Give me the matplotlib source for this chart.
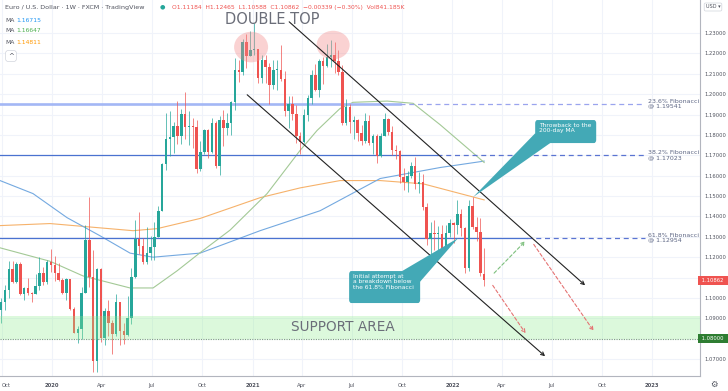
import matplotlib
matplotlib.use('Agg')
import matplotlib.pyplot as plt
import matplotlib.dates as mdates
from matplotlib.patches import Rectangle, Ellipse, Polygon, FancyBboxPatch
import numpy as np
import datetime as dt

# ---------------- data (weekly EUR/USD candles) ----------------
first_week = dt.datetime(2019, 9, 30)
opens = [1.0940,1.0978,1.1040,1.1143,1.1080,1.1165,1.1017,1.1051,1.1024,1.1018,
         1.1060,1.1121,1.1079,1.1175,1.1164,1.1120,1.1090,1.1025,1.1093,1.0944,
         1.0830,1.0847,1.1025,1.1284,1.1105,1.0690,1.1141,1.0803,1.0936,1.0875,
         1.0822,1.0978,1.0838,1.0820,1.0901,1.1102,1.1290,1.1255,1.1178,1.1219,
         1.1248,1.1300,1.1428,1.1655,1.1778,1.1788,1.1842,1.1795,1.1905,1.1837,
         1.1846,1.1838,1.1632,1.1715,1.1826,1.1718,1.1858,1.1646,1.1875,1.1834,
         1.1857,1.1962,1.2120,1.2110,1.2255,1.2188,1.2215,1.2220,1.2080,1.2170,
         1.2135,1.2045,1.2118,1.2120,1.2075,1.1915,1.1950,1.1905,1.1795,1.1765,
         1.1900,1.1983,1.2095,1.2020,1.2165,1.2140,1.2180,1.2190,1.2165,1.2110,
         1.1860,1.1935,1.1865,1.1875,1.1810,1.1770,1.1870,1.1760,1.1795,1.1697,
         1.1795,1.1880,1.1815,1.1727,1.1720,1.1595,1.1570,1.1600,1.1645,1.1558,
         1.1567,1.1445,1.1290,1.1318,1.1315,1.1315,1.1240,1.1320,1.1370,1.1360,
         1.1413,1.1343,1.1146,1.1450,1.1349,1.1323,1.11184]
highs = [1.0999,1.1063,1.1180,1.1179,1.1175,1.1176,1.1052,1.1098,1.1030,1.1116,
         1.1200,1.1153,1.1188,1.1239,1.1205,1.1173,1.1098,1.1096,1.1095,1.0957,
         1.0864,1.1054,1.1356,1.1495,1.1236,1.1147,1.1147,1.0953,1.0990,1.0890,
         1.1019,1.0980,1.0875,1.1009,1.1146,1.1384,1.1422,1.1296,1.1349,1.1303,
         1.1375,1.1452,1.1660,1.1908,1.1916,1.1864,1.1966,1.1925,1.2011,1.1917,
         1.1883,1.1872,1.1770,1.1831,1.1830,1.1881,1.1870,1.1892,1.1920,1.1906,
         1.1964,1.2177,1.2167,1.2273,1.2295,1.2310,1.2349,1.2223,1.2190,1.2190,
         1.2151,1.2170,1.2168,1.2243,1.2113,1.1990,1.1989,1.1945,1.1812,1.1927,
         1.1994,1.2117,1.2150,1.2172,1.2181,1.2245,1.2266,1.2254,1.2218,1.2145,
         1.1975,1.1954,1.1895,1.1880,1.1850,1.1909,1.1900,1.1804,1.1806,1.1810,
         1.1909,1.1885,1.1845,1.1750,1.1725,1.1640,1.1624,1.1669,1.1692,1.1616,
         1.1609,1.1464,1.1374,1.1383,1.1355,1.1360,1.1360,1.1386,1.1374,1.1482,
         1.1436,1.1347,1.1483,1.1495,1.1395,1.1390,1.12465]
lows = [1.0879,1.0942,1.1000,1.1072,1.1073,1.1015,1.0990,1.1014,1.0982,1.1017,
        1.1040,1.1065,1.1066,1.1125,1.1085,1.1085,1.1019,1.0992,1.0940,1.0827,
        1.0778,1.0800,1.1025,1.1054,1.0636,1.0637,1.0784,1.0768,1.0812,1.0727,
        1.0812,1.0767,1.0774,1.0815,1.0870,1.1096,1.1218,1.1168,1.1167,1.1185,
        1.1186,1.1299,1.1425,1.1627,1.1696,1.1710,1.1753,1.1753,1.1782,1.1752,
        1.1737,1.1612,1.1625,1.1706,1.1689,1.1712,1.1640,1.1603,1.1745,1.1800,
        1.1800,1.1923,1.2059,1.2093,1.2128,1.2185,1.2193,1.2054,1.2053,1.2057,
        1.1952,1.2024,1.2022,1.2065,1.1894,1.1835,1.1874,1.1762,1.1704,1.1761,
        1.1868,1.1950,1.2017,1.1986,1.2051,1.2135,1.2134,1.2104,1.2093,1.1847,
        1.1848,1.1807,1.1781,1.1772,1.1751,1.1758,1.1752,1.1705,1.1664,1.1693,
        1.1795,1.1801,1.1700,1.1684,1.1563,1.1529,1.1522,1.1590,1.1535,1.1513,
        1.1433,1.1262,1.1186,1.1235,1.1227,1.1222,1.1234,1.1300,1.1272,1.1313,
        1.1302,1.1121,1.1134,1.1340,1.1280,1.1106,1.10588]
closes = [1.0978,1.1040,1.1143,1.1080,1.1165,1.1017,1.1051,1.1024,1.1018,1.1060,
          1.1121,1.1079,1.1175,1.1164,1.1120,1.1090,1.1025,1.1093,1.0944,1.0830,
          1.0847,1.1025,1.1284,1.1105,1.0690,1.1141,1.0803,1.0936,1.0875,1.0822,
          1.0978,1.0838,1.0820,1.0901,1.1102,1.1290,1.1255,1.1178,1.1219,1.1248,
          1.1300,1.1428,1.1655,1.1778,1.1788,1.1842,1.1795,1.1905,1.1837,1.1846,
          1.1838,1.1632,1.1715,1.1826,1.1718,1.1858,1.1646,1.1875,1.1834,1.1857,
          1.1962,1.2120,1.2110,1.2255,1.2188,1.2215,1.2220,1.2080,1.2170,1.2135,
          1.2045,1.2118,1.2120,1.2075,1.1915,1.1950,1.1905,1.1795,1.1765,1.1900,
          1.1983,1.2095,1.2020,1.2165,1.2140,1.2180,1.2190,1.2165,1.2110,1.1860,
          1.1935,1.1865,1.1875,1.1810,1.1770,1.1870,1.1760,1.1795,1.1697,1.1795,
          1.1880,1.1815,1.1727,1.1720,1.1595,1.1570,1.1600,1.1645,1.1558,1.1567,
          1.1445,1.1290,1.1318,1.1315,1.1315,1.1240,1.1320,1.1370,1.1360,1.1413,
          1.1343,1.1146,1.1450,1.1349,1.1323,1.1120,1.10862]

# moving averages (fractional years)
ma100_t = [2019.74, 2019.905, 2020.075, 2020.24, 2020.39, 2020.505, 2020.74, 2021.04, 2021.34, 2021.64, 2021.94, 2022.16]
ma100_v = [1.1576, 1.1512, 1.1394, 1.1305, 1.1220, 1.1200, 1.1220, 1.1330, 1.1428, 1.1586, 1.1640, 1.16715]
ma50_t = [2019.74, 2019.99, 2020.155, 2020.39, 2020.505, 2020.625, 2020.74, 2020.89, 2021.075, 2021.24,
          2021.325, 2021.44, 2021.505, 2021.675, 2021.805, 2021.94, 2022.16]
ma50_v = [1.1246, 1.1180, 1.1108, 1.1049, 1.1049, 1.1133, 1.1222, 1.1333, 1.1512, 1.1724,
          1.1822, 1.1930, 1.1960, 1.1966, 1.1955, 1.1850, 1.16647]
ma200_t = [2019.74, 2019.99, 2020.405, 2020.525, 2020.74, 2021.04, 2021.24, 2021.44, 2021.64, 2021.855, 2022.16]
ma200_v = [1.1355, 1.1365, 1.1330, 1.1340, 1.1390, 1.1492, 1.1540, 1.1576, 1.1576, 1.1560, 1.14811]

fib_levels = [1.19541, 1.17023, 1.12954]
fib_names = ["23.6% Fibonacci", "38.2% Fibonacci", "61.8% Fibonacci"]
support_low, support_high = 1.0800, 1.0911
price_ticks = [1.07, 1.08, 1.09, 1.10, 1.11, 1.12, 1.13, 1.14, 1.15, 1.16,
               1.17, 1.18, 1.19, 1.20, 1.21, 1.22, 1.23]
time_ticks = [(2019, 10), (2020, 1), (2020, 4), (2020, 7), (2020, 10), (2021, 1), (2021, 4),
              (2021, 7), (2021, 10), (2022, 1), (2022, 4), (2022, 7), (2022, 10), (2023, 1)]
time_labels = ["Oct", "2020", "Apr", "Jul", "Oct", "2021", "Apr", "Jul", "Oct", "2022",
               "Apr", "Jul", "Oct", "2023"]

# ---------------- figure ----------------
W, H = 728, 391
fig = plt.figure(figsize=(W / 100, H / 100), dpi=100)
fig.patch.set_facecolor('white')
ax = fig.add_axes([0, 15 / H, 700 / W, 376 / H])
ax.set_facecolor('white')

def fy(t):
    return mdates.date2num(dt.datetime(2020, 1, 1)) + (t - 2020.0) * 365.25

def ft(x, y):
    return (x / W, 1 - y / H)

UP, DN = '#26a69a', '#ef5350'
dates = [mdates.date2num(first_week + dt.timedelta(weeks=i)) for i in range(len(closes))]

ax.set_xlim(mdates.date2num(dt.datetime(2019, 9, 28)), mdates.date2num(dt.datetime(2023, 3, 29)))
ax.set_ylim(1.0617, 1.2462)

# grid + axes
ax.set_yticks(price_ticks)
hidden = {1.08, 1.11}   # covered by the price tags
ax.set_yticklabels(["" if round(v, 2) in hidden else f"{v:.5f}" for v in price_ticks])
ax.set_xticks([mdates.date2num(dt.datetime(y, m, 1)) for y, m in time_ticks])
ax.set_xticklabels(time_labels)
ax.grid(True, color='#f0f3fa', lw=0.8, zorder=0)
ax.yaxis.tick_right()
ax.tick_params(axis='y', length=0, pad=3, labelsize=3.8, labelcolor='#50535e')
ax.tick_params(axis='x', length=0, pad=5, labelsize=3.8, labelcolor='#50535e')
for lab in ax.get_xticklabels():
    if lab.get_text().startswith('20'):
        lab.set_fontweight('bold')
ax.get_xticklabels()[0].set_horizontalalignment('left')
for s in ['top', 'left']:
    ax.spines[s].set_visible(False)
for s in ['right', 'bottom']:
    ax.spines[s].set_color('#b2b5be')
    ax.spines[s].set_linewidth(0.8)

# moving averages
ax.plot([fy(t) for t in ma200_t], ma200_v, color='#f6b26b', lw=0.8, zorder=2)
ax.plot([fy(t) for t in ma100_t], ma100_v, color='#74a9e0', lw=0.8, zorder=2)
ax.plot([fy(t) for t in ma50_t], ma50_v, color='#a3c996', lw=0.8, zorder=2)

# fibonacci lines
fib_solid_end = [2021.74, 2021.925, 2022.375]
xl0 = ax.get_xlim()[0]
ax.plot([xl0, fy(fib_solid_end[0])], [fib_levels[0]] * 2, color='#a3b7f5', lw=1.9, zorder=2)
ax.plot([xl0, fy(fib_solid_end[1])], [fib_levels[1]] * 2, color='#4a72d0', lw=0.9, zorder=2)
ax.plot([xl0, fy(fib_solid_end[2])], [fib_levels[2]] * 2, color='#4a72d0', lw=0.9, zorder=2)
dash_cols = ['#9aa4ee', '#5a74d2', '#5a74d2']
for lev, name, s, c in zip(fib_levels, fib_names, fib_solid_end, dash_cols):
    ax.plot([fy(s), fy(2022.965)], [lev, lev], color=c, lw=0.9, ls=(0, (4, 3)), zorder=2)
    ax.text(fy(2022.98), lev, f"{name}\n@ {lev:.5f}", fontsize=4.5, color='#5d6684',
            va='center', ha='left', linespacing=1.0, zorder=6)

# candles
for d, o, h, l, c in zip(dates, opens, highs, lows, closes):
    col = UP if c >= o else DN
    ax.vlines(d, l, h, color=col, lw=0.5, zorder=3)
    ax.bar(d, max(abs(c - o), 0.0003), bottom=min(o, c), width=4.6, color=col, lw=0, zorder=3)

# support area
ax.axhspan(support_low, support_high, color='#8eee8e', alpha=0.3, lw=0, zorder=4)
ax.axhline(support_low, color='#7aa37a', lw=0.8, ls=(0, (1, 1.2)), zorder=4)
ax.text(fy(2021.455), 1.0857, "SUPPORT AREA", fontsize=9.8, color='#6b6e79',
        ha='center', va='center', zorder=6)

# double top
ax.text(fy(2021.1), 1.2364, "DOUBLE TOP", fontsize=10.5, color='#6b6e79',
        ha='center', va='center', zorder=6)
for t, p, w, hh in [(2020.995, 1.2231, 0.17, 0.0150), (2021.405, 1.2241, 0.165, 0.0140)]:
    ax.add_patch(Ellipse((fy(t), p), w * 365.25, hh, facecolor='#f28b8b', alpha=0.38,
                         lw=0, zorder=5))

# channel lines
ax.annotate('', xy=(fy(2022.675), 1.1053), xytext=(fy(2021.175), 1.2364),
            arrowprops=dict(arrowstyle='->', color='#222222', lw=0.8, mutation_scale=6), zorder=5)
ax.annotate('', xy=(fy(2022.475), 1.0705), xytext=(fy(2020.965), 1.2006),
            arrowprops=dict(arrowstyle='->', color='#222222', lw=0.8, mutation_scale=6), zorder=5)

# projected paths
ax.annotate('', xy=(fy(2022.375), 1.1288), xytext=(fy(2022.2), 1.1112),
            arrowprops=dict(arrowstyle='->', color='#7cbf7c', lw=0.8, ls=(0, (3, 2)),
                            mutation_scale=6), zorder=5)
ax.annotate('', xy=(fy(2022.375), 1.0815), xytext=(fy(2022.195), 1.1073),
            arrowprops=dict(arrowstyle='->', color='#e57373', lw=0.8, ls=(0, (3, 2)),
                            mutation_scale=6), zorder=5)
ax.annotate('', xy=(fy(2022.715), 1.0827), xytext=(fy(2022.4), 1.1274),
            arrowprops=dict(arrowstyle='->', color='#e57373', lw=0.8, ls=(0, (3, 2)),
                            mutation_scale=6), zorder=5)

# callouts
TEAL = '#43a9b6'
def callout(t0, t1, p0, p1, tail, text):
    ax.add_patch(Polygon([(fy(a), b) for a, b in tail], closed=True, facecolor=TEAL,
                         edgecolor='none', zorder=7))
    ax.add_patch(FancyBboxPatch((fy(t0), p0), fy(t1) - fy(t0), p1 - p0,
                                boxstyle='round,pad=0,rounding_size=4', mutation_aspect=0.0004,
                                facecolor=TEAL, edgecolor='none', zorder=7))
    ax.text(fy(t0) + 7, p1 - 0.0015, text, fontsize=4.3, color='white', va='top', ha='left',
            linespacing=1.05, zorder=8)

callout(2022.415, 2022.72, 1.1760, 1.1873,
        [(2022.105, 1.1495), (2022.415, 1.1808), (2022.49, 1.1760)],
        "Throwback to the\n200-day MA")
callout(2021.485, 2021.84, 1.0975, 1.1132,
        [(2022.03, 1.1294), (2021.75, 1.1132), (2021.84, 1.1080)],
        "Initial attempt at\na breakdown below\nthe 61.8% Fibonacci")

# price tags on axis
def tag(p, text, col):
    ax.text(1.0, p, text, transform=ax.get_yaxis_transform(), fontsize=3.8, color='white',
            ha='left', va='center', zorder=9, clip_on=False,
            bbox=dict(boxstyle='square,pad=0.35', facecolor=col, edgecolor='none'))
tag(closes[-1], f" {closes[-1]:.5f}  ", '#ef5350')
tag(support_low, f" {support_low:.5f}  ", '#2e7d32')

# header
fig.text(*ft(5, 7), "Euro / U.S. Dollar · 1W · FXCM · TradingView", fontsize=4.6,
         color='#50535e', va='center', ha='left')
fig.text(*ft(162, 7), "●", fontsize=4.5, color='#26a69a', va='center', ha='center')
fig.text(*ft(172, 7), "O1.11184  H1.12465  L1.10588  C1.10862  −0.00339 (−0.30%)  Vol841.185K",
         fontsize=4.3, color='#ef5350', va='center', ha='left')
ma_vals = [1.16715, 1.16647, 1.14811]
ma_cols = ['#2196f3', '#4caf50', '#ff9800']
for i, (v, c) in enumerate(zip(ma_vals, ma_cols)):
    fig.text(*ft(5, 20 + 11 * i), "MA", fontsize=4.3, color='#50535e', va='center', ha='left')
    fig.text(*ft(16, 20 + 11 * i), f"{v:.5f}", fontsize=4.3, color=c, va='center', ha='left')
fig.text(*ft(11, 56), "^", fontsize=5, color='#50535e', va='center', ha='center',
         bbox=dict(boxstyle='round,pad=0.35', facecolor='white', edgecolor='#d1d4dc', lw=0.5))
fig.text(*ft(713, 7), "USD ▾", fontsize=3.6, color='#50535e', va='center', ha='center',
         bbox=dict(boxstyle='round,pad=0.3', facecolor='white', edgecolor='#d1d4dc', lw=0.5))
fig.text(*ft(714, 384), "⚙", fontsize=6, color='#50535e', va='center', ha='center')

fig.savefig('out.png', dpi=100)
